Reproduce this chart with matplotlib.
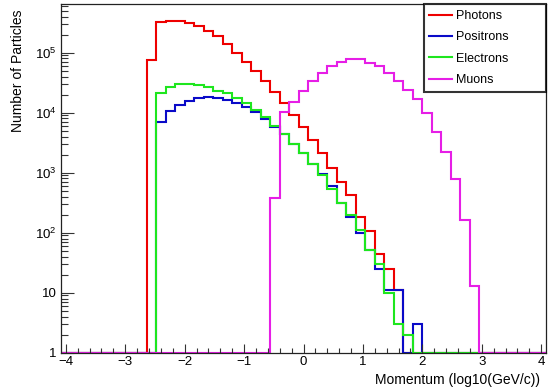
import numpy as np
import matplotlib
matplotlib.use("Agg")
import matplotlib.pyplot as plt
from matplotlib.ticker import FixedLocator, FixedFormatter, MultipleLocator

plt.rcParams['font.family'] = ['Liberation Sans', 'DejaVu Sans']
plt.rcParams['mathtext.default'] = 'regular'

# histogram binning (log10 momentum), 51 bins of 0.16
bin_low = -4.08
bin_width = 0.16
n_bins = 51

# counts per bin, lowest bin first
photons = [0] * 9 + [
    75000, 321000, 341000, 340000, 309000, 279000, 229000, 190000, 138000,
    100000, 70800, 49500, 33100, 22400, 14350, 9000, 5850, 3510, 2090,
    1220, 708, 427, 186, 107, 44, 25, 11,
] + [0] * 15

positrons = [0] * 10 + [
    7080, 10700, 13400, 15700, 17400, 18100, 17400, 16200, 14400,
    12600, 10400, 7940, 5850, 4370, 2950, 2090, 1380, 950, 600,
    309, 185, 98, 52, 25, 11, 11, 0, 3,
] + [0] * 13

electrons = [0] * 10 + [
    21500, 27100, 29700, 29500, 29000, 26500, 23300, 21000, 17800,
    14400, 11200, 8410, 5960, 4370, 3010, 2100, 1400, 912, 525,
    309, 197, 111, 52, 30, 10, 3, 2,
] + [0] * 14

muons = [0] * 22 + [
    383, 10400, 15200, 23400, 33100, 45700, 59600, 69200, 77600, 77600,
    68400, 59600, 46100, 33100, 24200, 16800, 9770, 4820, 2190, 782,
    162, 13,
] + [0] * 7

labels = ['Photons', 'Positrons', 'Electrons', 'Muons']
colors = ['#ee0000', '#0a0ac8', '#1ee61e', '#e61ee6']

y_min, y_max = 1, 6.4e5
y_ticks = [1, 10, 100, 1e3, 1e4, 1e5]
y_ticklabels = ['1', '10', '$10^{2}$', '$10^{3}$', '$10^{4}$', '$10^{5}$']

edges = bin_low + bin_width * np.arange(n_bins + 1)

fig = plt.figure(figsize=(5.58, 3.90), dpi=100)
ax = fig.add_axes([61 / 558, 1 - 352.7 / 390, 485 / 558, 348.4 / 390])

for counts, lab, col in zip([photons, positrons, electrons, muons], labels, colors):
    # ROOT draws empty bins on the bottom of a log axis
    vals = np.maximum(np.array(counts, dtype=float), y_min)
    ax.stairs(vals, edges, baseline=None, color=col, lw=1.5, label=lab)

ax.set_yscale('log')
ax.set_xlim(edges[0], edges[-1])
ax.set_ylim(y_min, y_max)

ax.yaxis.set_major_locator(FixedLocator(y_ticks))
ax.yaxis.set_major_formatter(FixedFormatter(y_ticklabels))
minor = [m * 10 ** d for d in range(0, 6) for m in range(2, 10)]
ax.yaxis.set_minor_locator(FixedLocator(minor))
ax.yaxis.set_minor_formatter(FixedFormatter([''] * len(minor)))

ax.xaxis.set_major_locator(MultipleLocator(1))
ax.xaxis.set_minor_locator(MultipleLocator(0.2))

ax.tick_params(axis='both', which='both', direction='in', top=False, right=False,
               color='#333333', width=0.8, labelsize=9.5)
ax.tick_params(axis='x', which='major', length=6.5, pad=2.5)
ax.tick_params(axis='x', which='minor', length=3.6)
ax.tick_params(axis='y', which='major', length=9.4, pad=3)
ax.tick_params(axis='y', which='minor', length=5)

for s in ax.spines.values():
    s.set_color('#222222')
    s.set_linewidth(0.9)

ax.set_xlabel('Momentum (log10(GeV/c))', fontsize=10, loc='right')
ax.xaxis.set_label_coords(0.988, -0.058)
ax.set_ylabel('Number of Particles', fontsize=10, loc='top')
ax.yaxis.set_label_coords(-0.074, 0.985)

leg = ax.legend(loc='upper left', bbox_to_anchor=(0.748, 0.5, 0.252, 0.5), mode='expand',
                borderaxespad=0, fancybox=False, fontsize=9, handlelength=1.8,
                handletextpad=0.3, labelspacing=0.75, borderpad=0.45)
leg.get_frame().set_edgecolor('black')
leg.get_frame().set_linewidth(1.5)

fig.savefig('out.png', dpi=100)
